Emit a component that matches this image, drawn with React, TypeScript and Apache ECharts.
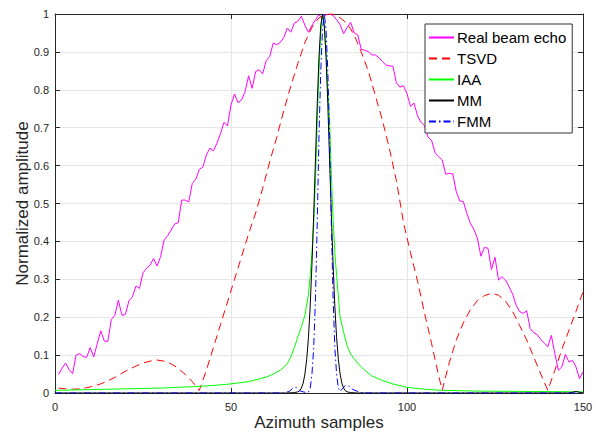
import React, { useEffect, useRef } from "react";
import * as echarts from "echarts";

// Real beam echo: one value per azimuth sample 1..150
const beamSamples: number[] = Array.from({ length: 150 }, (_, i) => i + 1);
const beamEcho: number[] = [
  0.049, 0.065, 0.079, 0.062, 0.051, 0.100, 0.104, 0.096, 0.094, 0.120,
  0.095, 0.130, 0.164, 0.137, 0.136, 0.194, 0.205, 0.245, 0.205, 0.207,
  0.243, 0.254, 0.282, 0.276, 0.317, 0.329, 0.337, 0.355, 0.335, 0.360,
  0.404, 0.415, 0.430, 0.446, 0.449, 0.509, 0.509, 0.504, 0.553, 0.564,
  0.590, 0.596, 0.628, 0.646, 0.639, 0.659, 0.684, 0.714, 0.705, 0.760,
  0.789, 0.766, 0.773, 0.795, 0.837, 0.804, 0.848, 0.853, 0.842, 0.877,
  0.888, 0.923, 0.919, 0.925, 0.938, 0.963, 0.952, 0.976, 0.981, 0.994,
  0.970, 0.952, 0.970, 0.985, 0.998, 0.989, 0.998, 1.000, 0.996, 0.985,
  0.972, 0.948, 0.965, 0.978, 0.950, 0.945, 0.907, 0.904, 0.901, 0.892,
  0.892, 0.885, 0.875, 0.865, 0.863, 0.862, 0.818, 0.807, 0.811, 0.790,
  0.756, 0.765, 0.731, 0.714, 0.705, 0.675, 0.666, 0.633, 0.624, 0.615,
  0.577, 0.580, 0.578, 0.531, 0.507, 0.505, 0.474, 0.448, 0.432, 0.408,
  0.361, 0.384, 0.382, 0.326, 0.358, 0.298, 0.307, 0.298, 0.280, 0.261,
  0.232, 0.215, 0.210, 0.217, 0.170, 0.159, 0.154, 0.141, 0.132, 0.122,
  0.152, 0.104, 0.060, 0.069, 0.102, 0.082, 0.086, 0.069, 0.038, 0.056,
];

// TSVD
const tsvdX: number[] = [
  1, 3, 5, 7, 9, 11, 13, 15, 17, 19, 21, 23, 25, 27, 29, 31, 33, 35, 37, 39, 41,
  43, 45, 47, 49, 51, 53, 55, 57, 59, 61, 63, 65, 67, 69, 71, 73, 75, 77, 79,
  81, 83, 85, 87, 89, 91, 93, 95, 97, 99, 101, 103, 105, 107, 109, 110,
  112, 114, 116, 118, 120, 122, 124, 126, 128, 130, 132, 134, 136, 138, 140,
  142, 144, 146, 148, 150,
];
const tsvdY: number[] = [
  0.013, 0.011, 0.010, 0.011, 0.014, 0.018, 0.024, 0.032, 0.041, 0.052, 0.062,
  0.071, 0.079, 0.084, 0.087, 0.084, 0.077, 0.065, 0.049, 0.030, 0.007,
  0.060, 0.120, 0.180, 0.240, 0.300, 0.360, 0.420, 0.475, 0.540, 0.610, 0.675,
  0.745, 0.810, 0.870, 0.925, 0.965, 0.990, 0.999, 1.000,
  0.990, 0.975, 0.945, 0.900, 0.850, 0.785, 0.720, 0.645, 0.560, 0.450, 0.370,
  0.295, 0.210, 0.130, 0.045, 0.007,
  0.080, 0.140, 0.185, 0.220, 0.244, 0.257, 0.263, 0.258, 0.242, 0.215, 0.178,
  0.140, 0.095, 0.050, 0.007,
  0.060, 0.115, 0.165, 0.215, 0.267,
];

// IAA
const iaaX: number[] = [
  0, 10, 20, 30, 40, 45, 50, 55, 58, 60, 62, 64, 65, 66, 67, 68, 69, 70, 71, 72,
  72.5, 73, 73.5, 74, 74.5, 75, 75.5, 76, 76.5, 77, 77.5, 78, 78.5, 79, 79.5,
  80, 81, 82, 83, 84, 86, 88, 90, 93, 96, 100, 105, 110, 120, 135, 150,
];
const iaaY: number[] = [
  0.007, 0.009, 0.011, 0.013, 0.017, 0.020, 0.024, 0.030, 0.037, 0.042, 0.050,
  0.060, 0.068, 0.078, 0.095, 0.120, 0.148, 0.175, 0.205, 0.260, 0.310, 0.370,
  0.450, 0.560, 0.720, 0.850, 0.950, 1.000, 0.970, 0.900, 0.800, 0.720, 0.580,
  0.460, 0.370, 0.310, 0.200, 0.160, 0.125, 0.103, 0.078, 0.060, 0.045, 0.033,
  0.024, 0.015, 0.010, 0.007, 0.005, 0.004, 0.003,
];

// MM
const mmX: number[] = [
  0, 66, 68, 69, 69.5, 70, 70.5, 71, 71.5, 72, 72.5, 73, 73.5, 74, 74.5, 75,
  75.5, 76, 76.5, 77, 77.5, 78, 78.5, 79, 79.5, 80, 80.5, 81, 81.5, 82, 82.5,
  83, 84, 86, 146, 147, 148, 149, 150,
];
const mmY: number[] = [
  0, 0, 0.001, 0.003, 0.006, 0.013, 0.026, 0.05, 0.088, 0.146, 0.229, 0.34,
  0.472, 0.618, 0.763, 0.887, 0.97, 1, 0.97, 0.887, 0.763, 0.618, 0.472, 0.34,
  0.229, 0.146, 0.088, 0.05, 0.026, 0.013, 0.006, 0.003, 0.001, 0, 0, 0.002,
  0.004, 0.002, 0,
];

// FMM
const fmmX: number[] = [
  0, 65, 66.5, 67.5, 68.5, 69.5, 70.5, 71.5, 72, 72.5, 73, 73.5, 74, 74.5, 75,
  75.5, 76, 76.5, 77, 77.5, 78, 78.5, 79, 79.5, 80, 80.5, 81, 81.5, 82.5, 83.5,
  84.5, 85.5, 86.5, 88, 150,
];
const fmmY: number[] = [
  0, 0, 0.004, 0.012, 0.015, 0.006, 0.003, 0.001, 0.002, 0.012, 0.05, 0.12,
  0.25, 0.45, 0.68, 0.85, 0.96, 1, 0.96, 0.85, 0.68, 0.45, 0.25, 0.12, 0.05,
  0.012, 0.004, 0.01, 0.02, 0.018, 0.01, 0.006, 0.002, 0, 0,
];

const seriesNames = ["Real beam echo", "TSVD", "IAA", "MM", "FMM"];
const xTicks = { min: 0, max: 150, interval: 50 };
const yTicks = { min: 0, max: 1, interval: 0.1 };

const FONT = "'Liberation Sans', Arial, Helvetica, sans-serif";
const AXIS_COLOR = "#262626";

function zip(xs: number[], ys: number[]): number[][] {
  return xs.map((x, i) => [x, ys[i]]);
}

export default function App() {
  const ref = useRef<HTMLDivElement>(null);
  useEffect(() => {
    if (!ref.current) return;
    const chart = echarts.init(ref.current, undefined, { renderer: "svg" });
    const baseAxis = {
      type: "value" as const,
      axisLine: { show: true, onZero: false, lineStyle: { color: AXIS_COLOR, width: 1 } },
      axisTick: { show: true, inside: true, length: 5, lineStyle: { color: AXIS_COLOR } },
    };
    const lineSeries = (name: string, data: number[][], color: string, type: any, z: number) => ({
      name,
      type: "line",
      data,
      symbol: "none",
      showSymbol: false,
      z,
      lineStyle: { color, width: 1, type },
      itemStyle: { color },
      emphasis: { disabled: true },
    });
    chart.setOption({
      animation: false,
      backgroundColor: "#ffffff",
      textStyle: { fontFamily: FONT },
      grid: { left: 55, right: 14, top: 14, bottom: 40, containLabel: false, outerBoundsMode: "none" },
      legend: {
        orient: "vertical",
        left: 425,
        top: 24,
        data: seriesNames,
        backgroundColor: "#ffffff",
        borderColor: "#333333",
        borderWidth: 1,
        borderRadius: 0,
        padding: [6, 6, 4, 3],
        itemWidth: 25,
        itemHeight: 14,
        itemGap: 6,
        itemStyle: { opacity: 0 },
        textStyle: { fontSize: 15, color: "#000000", fontFamily: FONT, padding: [0, 0, 0, -2] },
        selectedMode: false,
      },
      xAxis: [
        {
          ...baseAxis,
          position: "bottom",
          ...xTicks,
          name: "Azimuth samples",
          nameLocation: "middle",
          nameMoveOverlap: false,
          nameGap: 21,
          nameTextStyle: { fontSize: 17, color: AXIS_COLOR, fontFamily: FONT, verticalAlign: "top" },
          axisLabel: { show: true, fontSize: 11, color: AXIS_COLOR, margin: 8, fontFamily: FONT },
          splitLine: { show: true, lineStyle: { color: "#e6e6e6", width: 1 } },
        },
        {
          ...baseAxis,
          position: "top",
          ...xTicks,
          axisLabel: { show: false },
          splitLine: { show: false },
        },
      ],
      yAxis: [
        {
          ...baseAxis,
          position: "left",
          ...yTicks,
          name: "Normalized amplitude",
          nameLocation: "middle",
          nameMoveOverlap: false,
          nameGap: 24,
          nameTextStyle: { fontSize: 17, color: AXIS_COLOR, fontFamily: FONT },
          axisLabel: { show: true, fontSize: 11, color: AXIS_COLOR, margin: 6, fontFamily: FONT },
          splitLine: { show: true, lineStyle: { color: "#e6e6e6", width: 1 } },
        },
        {
          ...baseAxis,
          position: "right",
          ...yTicks,
          axisLabel: { show: false },
          splitLine: { show: false },
        },
      ],
      series: [
        lineSeries(seriesNames[0], zip(beamSamples, beamEcho), "#ff00ff", "solid", 2),
        lineSeries(seriesNames[1], zip(tsvdX, tsvdY), "#ff0000", [8, 5], 3),
        lineSeries(seriesNames[2], zip(iaaX, iaaY), "#00ff00", "solid", 4),
        lineSeries(seriesNames[3], zip(mmX, mmY), "#000000", "solid", 5),
        lineSeries(seriesNames[4], zip(fmmX, fmmY), "#0000ff", [7, 3, 1.5, 3], 6),
      ],
    });
    return () => chart.dispose();
  }, []);
  return (
    <div
      ref={ref}
      style={{ position: "fixed", left: 0, top: 0, width: 597, height: 433, background: "#fff" }}
    />
  );
}
